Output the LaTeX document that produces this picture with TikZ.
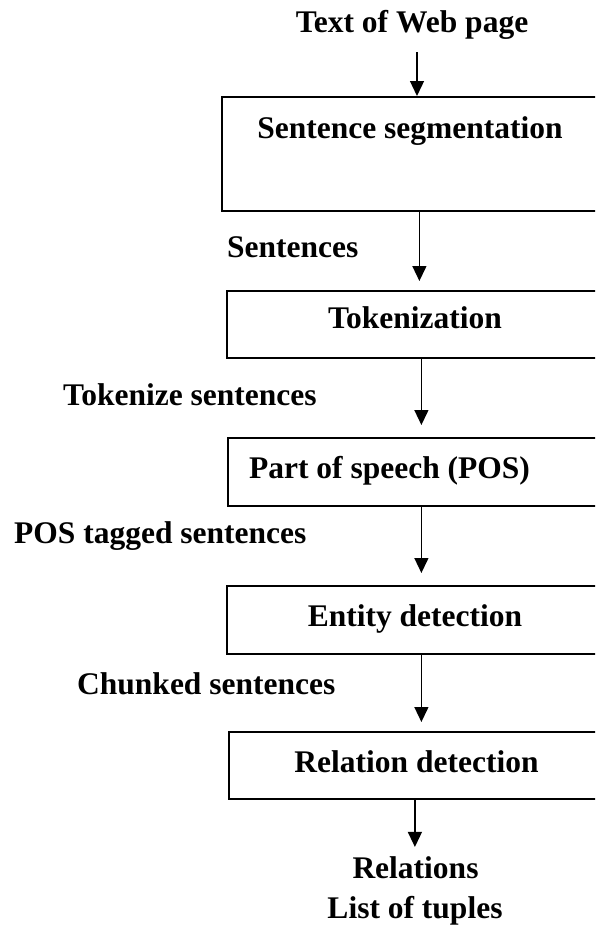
\documentclass[tikz,border=0pt]{standalone}
\usepackage{fontspec}
\setmainfont{Liberation Serif}
\usetikzlibrary{arrows.meta}
\begin{document}
\begin{tikzpicture}[x=1pt,y=-1pt,
  txt/.style={inner sep=0pt,anchor=base,font=\fontsize{31.5}{36}\selectfont\bfseries},
  lbl/.style={txt,anchor=base west},
  box/.style={draw,line width=1.8pt,rectangle,inner sep=0pt,anchor=north west},
  arr/.style={line width=1.3pt,-{Triangle[length=15pt,width=14pt]}}]
\useasboundingbox (0,0) rectangle (595,926);
\clip (0,0) rectangle (595,926);
% boxes
\node[box,minimum width=395pt,minimum height=114pt] (b1) at (221,96) {};
\node[box,minimum width=389pt,minimum height=67pt] (b2) at (226,290) {};
\node[box,minimum width=387pt,minimum height=68pt] (b3) at (227,437) {};
\node[box,minimum width=389pt,minimum height=68pt] (b4) at (226,585) {};
\node[box,minimum width=380pt,minimum height=67pt] (b5) at (228,731) {};
% texts
\node[txt] (title) at (412,32) {Text of Web page};
\node[txt] (t1) at (410,138) {Sentence segmentation};
\node[txt] (t2) at (415,328) {Tokenization};
\node[txt] (t3) at (389.5,478) {Part of speech (POS)};
\node[txt] (t4) at (415,626) {Entity detection};
\node[txt] (t5) at (416.5,772) {Relation detection};
\node[txt] (rel) at (415.5,878) {Relations};
\node[txt] (tup) at (415,918) {List of tuples};
% side labels
\node[lbl] (l1) at (227,257) {Sentences};
\node[lbl] (l2) at (63,405) {Tokenize sentences};
\node[lbl] (l3) at (14,543) {POS tagged sentences};
\node[lbl] (l4) at (77,694) {Chunked sentences};
% connectors
\coordinate (s0) at (417,52);
\draw[arr] (s0) -- (s0 |- b1.north);
\draw[arr,shorten >=9pt] (b1.south) -- (b1.south |- b2.north);
\draw[arr,shorten >=12pt] (b2.south) -- (b2.south |- b3.north);
\draw[arr,shorten >=12pt] (b3.south) -- (b3.south |- b4.north);
\draw[arr,shorten >=9pt] (b4.south) -- (b4.south |- b5.north);
\coordinate (o5) at ([xshift=-4pt]b5.south);
\draw[arr,shorten >=9pt] (o5) -- (o5 |- rel.north);
\end{tikzpicture}
\end{document}
